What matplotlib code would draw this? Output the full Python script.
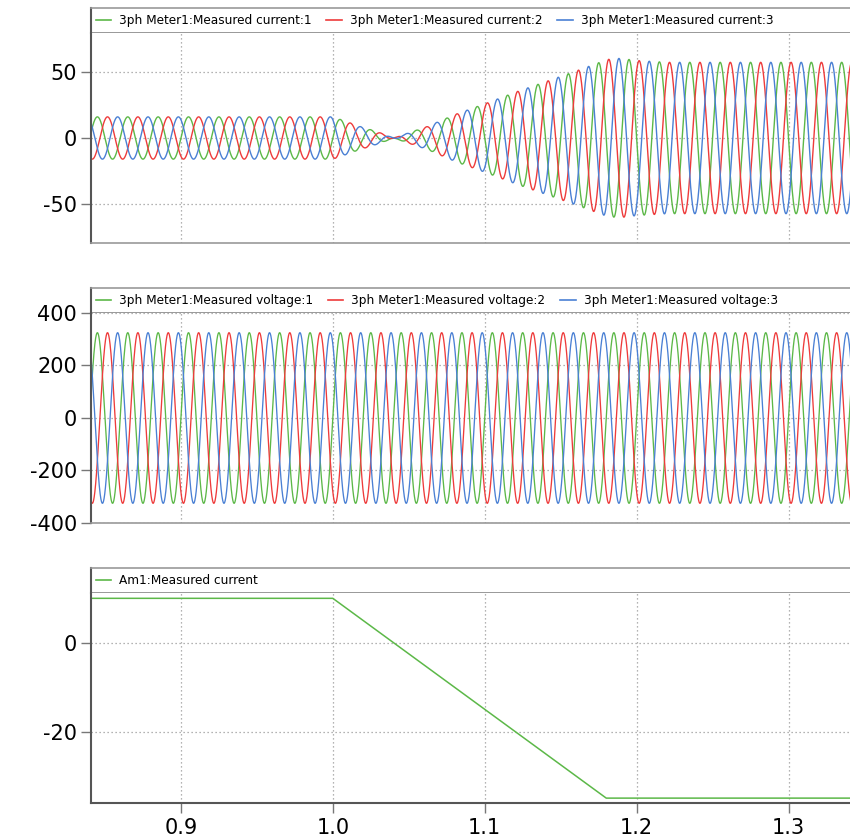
import numpy as np
import matplotlib
matplotlib.use("Agg")
import matplotlib.pyplot as plt
from matplotlib.lines import Line2D

plt.rcParams["axes.unicode_minus"] = False

# ---------------- data ----------------
freq_hz = 50.0
phase_deg = [0.0, -120.0, 120.0]          # phases 1, 2, 3
voltage_peak = 325.0

# signed peak amplitude envelope of the phase currents
cur_env_t = [0.84, 1.000, 1.011, 1.017, 1.024, 1.031, 1.040, 1.054, 1.063, 1.068,
             1.081, 1.101, 1.121, 1.141, 1.162, 1.175, 1.181, 1.189, 1.201, 1.220, 1.35]
cur_env_a = [16.0, 16.0, 11.6, 9.0, 6.6, 4.0, 0.0, -5.5, -9.0, -11.6,
             -18.0, -26.3, -35.0, -43.0, -51.5, -57.0, -59.5, -60.3, -58.6, -57.3, -57.3]

# Am1 measured current breakpoints
am_t = [0.84, 1.00, 1.18, 1.35]
am_v = [10.0, 10.0, -35.0, -35.0]

cur_labels = ["3ph Meter1:Measured current:1", "3ph Meter1:Measured current:2",
              "3ph Meter1:Measured current:3"]
volt_labels = ["3ph Meter1:Measured voltage:1", "3ph Meter1:Measured voltage:2",
               "3ph Meter1:Measured voltage:3"]
am_label = "Am1:Measured current"

xticks = [0.9, 1.0, 1.1, 1.2, 1.3]
yticks_cur = [-50, 0, 50]
yticks_volt = [-400, -200, 0, 200, 400]
yticks_am = [-20, 0]

colors = ["#5cb848", "#ee3b3b", "#4a80d4"]

# ---------------- figure ----------------
W, H = 850, 839
fig = plt.figure(figsize=(W / 100, H / 100), dpi=100)

x_left, x_right = 91, 860
xlim = (0.8408, 0.8408 + (x_right - x_left) / 1519.0)

def px_axes(y_top, y_bot):
    return fig.add_axes([x_left / W, 1 - y_bot / H, (x_right - x_left) / W, (y_bot - y_top) / H])

panels = [
    (8, 33, 243),
    (288, 313, 523),
    (568, 593, 803),
]

t = np.linspace(0.84, 1.35, 30000)
w = 2 * np.pi * freq_hz
env = np.interp(t, cur_env_t, cur_env_a)

grid_kw = dict(color="#9a9a9a", linestyle=(0, (1, 2.2)), linewidth=0.9)

axes = []
strips = []
for (ys, ya, yb) in panels:
    strip = px_axes(ys, ya)
    strip.set_xticks([]); strip.set_yticks([])
    strip.spines["right"].set_visible(False)
    strip.spines["left"].set_color("#555555"); strip.spines["left"].set_linewidth(1.5)
    strip.spines["top"].set_color("#999999"); strip.spines["top"].set_linewidth(1.2)
    strip.spines["bottom"].set_color("#888888"); strip.spines["bottom"].set_linewidth(1.2)
    ax = px_axes(ya, yb)
    ax.set_xlim(*xlim)
    ax.spines["right"].set_visible(False)
    ax.spines["top"].set_visible(False)
    ax.spines["left"].set_color("#555555"); ax.spines["left"].set_linewidth(1.5)
    ax.spines["bottom"].set_color("#999999"); ax.spines["bottom"].set_linewidth(1.2)
    ax.set_xticks(xticks)
    ax.grid(True, **grid_kw)
    ax.tick_params(axis="y", length=7, width=1.0, color="#777777", labelsize=15, pad=3)
    ax.tick_params(axis="x", length=7, width=1.0, color="#777777", labelsize=15, pad=4)
    axes.append(ax); strips.append(strip)

ax1, ax2, ax3 = axes

# currents
h1 = []
for k in range(3):
    y = env * np.sin(w * t + np.deg2rad(phase_deg[k]))
    ln, = ax1.plot(t, y, color=colors[k], lw=1.0, label=cur_labels[k])
    h1.append(ln)
ax1.set_ylim(-79.5, 79.5)
ax1.set_yticks(yticks_cur)
ax1.tick_params(axis="x", length=0, labelbottom=False)

# voltages
h2 = []
for k in range(3):
    y = voltage_peak * np.sin(w * t + np.deg2rad(phase_deg[k]))
    ln, = ax2.plot(t, y, color=colors[k], lw=0.95, label=volt_labels[k])
    h2.append(ln)
ax2.set_ylim(-400, 400)
ax2.set_yticks(yticks_volt)
ax2.tick_params(axis="x", length=0, labelbottom=False)

# Am1
ln3, = ax3.plot(am_t, am_v, color=colors[0], lw=1.1, label=am_label)
ax3.set_ylim(-36.1, 11.2)
ax3.set_yticks(yticks_am)
ax3.set_xticklabels([f"{v:.1f}" for v in xticks])
ax3.spines["bottom"].set_color("#555555"); ax3.spines["bottom"].set_linewidth(1.5)

for strip, hs in zip(strips, [h1, h2, [ln3]]):
    handles = [Line2D([], [], color=h.get_color(), lw=1.2) for h in hs]
    strip.legend(handles, [h.get_label() for h in hs], ncol=3, loc="center left",
                 bbox_to_anchor=(4.5 / (x_right - x_left), 0.5), frameon=False, fontsize=8.7,
                 handlelength=1.27, handletextpad=0.66, columnspacing=1.24,
                 borderaxespad=0.0, borderpad=0.0)

fig.savefig("out.png", dpi=100)
